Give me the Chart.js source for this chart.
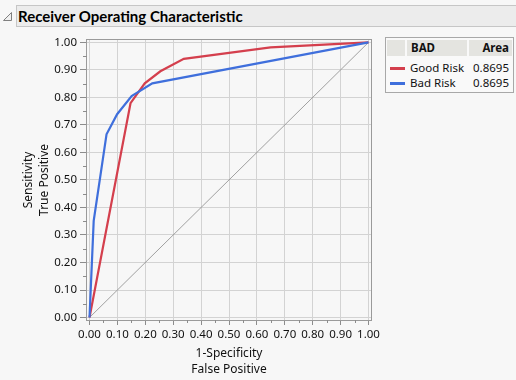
<!DOCTYPE html>
<html><head><meta charset="utf-8">
<script src="https://cdn.jsdelivr.net/npm/chart.js@4"></script>
<style>
body{margin:0;width:516px;height:380px;background:#f7f7f7;font-family:"Noto Sans",sans-serif;overflow:hidden;position:relative}
#bar{position:absolute;left:16px;top:5px;width:520px;height:22px;background:#ececec;border:1px solid #c6c6c6;box-sizing:border-box}
#bar span{position:absolute;left:1px;top:0;font-family:Lato,"Noto Sans",sans-serif;font-weight:bold;font-size:15px;line-height:20px;color:#000}
#tri{position:absolute;left:2px;top:11px}
#wrap{position:absolute;left:0;top:30px;width:385px;height:350px}
#legend{position:absolute;left:385px;top:37px;width:129px;height:56px;border:1px solid #a8a8a8;background:#f9f9f9;font-size:11.5px;box-sizing:border-box;color:#111}
.hc{position:absolute;top:2px;height:16px;background:#e4e4e0;font-weight:bold;line-height:16px}
.sw{position:absolute;left:4px;width:15px;height:2.5px}
.lt{position:absolute;left:24px;line-height:15px}
.lv{position:absolute;right:4px;line-height:15px}
</style></head>
<body>
<svg id="tri" width="12" height="12"><polygon points="1.5,9.5 9.5,1.5 9.5,9.5" fill="#f0f0f0" stroke="#808080" stroke-width="1"/></svg>
<div id="bar"><span id="ttl">Receiver Operating Characteristic</span></div>
<div id="wrap"><canvas id="c" width="385" height="350"></canvas></div>
<div id="legend"></div>
<script>
// ---- data ----
const seriesNames = ["Good Risk", "Bad Risk"];
const seriesArea = ["0.8695", "0.8695"];
const legendHeader = ["BAD", "Area"];
const goodRiskFPR = [0, 0.147, 0.198, 0.254, 0.338, 0.649, 1];
const goodRiskTPR = [0, 0.779, 0.851, 0.895, 0.940, 0.982, 1];
const badRiskFPR  = [0, 0.015, 0.061, 0.099, 0.151, 0.225, 1];
const badRiskTPR  = [0, 0.351, 0.666, 0.739, 0.805, 0.851, 1];
const diagX = [0, 1];
const diagY = [0, 1];
const tickValues = [0,0.1,0.2,0.3,0.4,0.5,0.6,0.7,0.8,0.9,1.0];
const minorTickValues = [0.05,0.15,0.25,0.35,0.45,0.55,0.65,0.75,0.85,0.95];
const xTitle = ["1-Specificity", "False Positive"];
const yTitle = ["Sensitivity", "True Positive"];

const RED = "#d43f4d", BLUE = "#3f6fdc";

// legend (HTML text)
const lg = document.getElementById('legend');
lg.innerHTML =
  '<div class="hc" style="left:1px;width:18px"></div>' +
  '<div class="hc" style="left:21px;width:60px;padding-left:4px;box-sizing:border-box">'+legendHeader[0]+'</div>' +
  '<div class="hc" style="left:83px;width:43px;text-align:right;padding-right:3px;box-sizing:border-box">'+legendHeader[1]+'</div>' +
  seriesNames.map((n,i)=>{
    const top = 22 + i*15;
    return '<div class="sw" style="top:'+(top+7)+'px;background:'+[RED,BLUE][i]+'"></div>'+
           '<div class="lt" style="top:'+top+'px">'+n+'</div>'+
           '<div class="lv" style="top:'+top+'px">'+seriesArea[i]+'</div>';
  }).join('');

const zip = (xs, ys) => xs.map((x,i)=>({x:x, y:ys[i]}));

const frameAndMinor = {
  id:'frameAndMinor',
  afterDraw(chart){
    const {ctx, chartArea:a, scales:{x, y}} = chart;
    ctx.save();
    ctx.strokeStyle = '#9a9a9a';
    ctx.lineWidth = 1;
    ctx.strokeRect(Math.round(a.left)-0.5, Math.round(a.top)-0.5, Math.round(a.right-a.left)+1, Math.round(a.bottom-a.top)+1);
    ctx.strokeStyle = '#8c8c8c';
    ctx.beginPath();
    minorTickValues.forEach(v=>{
      const px = Math.round(x.getPixelForValue(v))+0.5;
      ctx.moveTo(px, Math.round(a.bottom)); ctx.lineTo(px, Math.round(a.bottom)+3);
      const py = Math.round(y.getPixelForValue(v))+0.5;
      ctx.moveTo(Math.round(a.left), py); ctx.lineTo(Math.round(a.left)-4, py);
    });
    ctx.stroke();
    ctx.restore();
  }
};

const tickFont = {family:'"Noto Sans", sans-serif', size:11.5};
new Chart(document.getElementById('c'), {
  type:'line',
  data:{datasets:[
    {label:seriesNames[1], data:zip(badRiskFPR,badRiskTPR), borderColor:BLUE, borderWidth:2.2, pointRadius:0, tension:0, order:1},
    {label:seriesNames[0], data:zip(goodRiskFPR,goodRiskTPR), borderColor:RED, borderWidth:2.2, pointRadius:0, tension:0, order:2},
    {label:'diag', data:zip(diagX,diagY), borderColor:'#8a8a8a', borderWidth:0.8, pointRadius:0, tension:0, order:3}
  ]},
  options:{
    responsive:false, animation:false,
    layout:{padding:{top:6,right:14,left:0,bottom:0}},
    plugins:{legend:{display:false}, tooltip:{enabled:false}},
    scales:{
      x:{type:'linear', min:-0.009, max:1.009,
        afterBuildTicks:s=>{s.ticks = tickValues.map(v=>({value:v}));},
        afterFit:s=>{s.height = 60;},
        grid:{color:'#d3d3d3', tickColor:'#8c8c8c', tickLength:5, drawTicks:true},
        border:{display:false},
        ticks:{font:tickFont, color:'#111', padding:3, maxRotation:0, autoSkip:false, callback:v=>v.toFixed(2)},
        title:{display:true, text:xTitle, font:{family:'"Noto Sans", sans-serif', size:12, lineHeight:1.38}, color:'#111', padding:{top:0,bottom:2}}
      },
      y:{type:'linear', min:-0.009, max:1.009,
        afterBuildTicks:s=>{s.ticks = tickValues.map(v=>({value:v}));},
        afterFit:s=>{s.width = 87;},
        grid:{color:'#d3d3d3', tickColor:'#8c8c8c', tickLength:7},
        border:{display:false},
        ticks:{font:tickFont, color:'#111', padding:3, autoSkip:false, callback:v=>v.toFixed(2)},
        title:{display:true, text:yTitle, font:{family:'"Noto Sans", sans-serif', size:12, lineHeight:1.3}, color:'#111', padding:{top:21,bottom:0}}
      }
    }
  },
  plugins:[frameAndMinor]
});
</script>
</body></html>
